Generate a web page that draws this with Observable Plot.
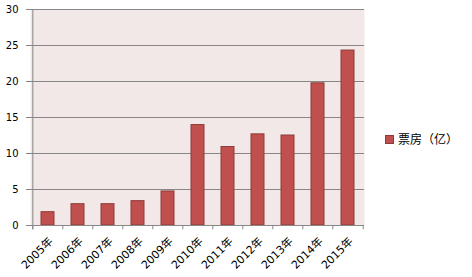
<!DOCTYPE html>
<html><head><meta charset="utf-8">
<script src="https://cdn.jsdelivr.net/npm/d3@7"></script>
<script src="https://cdn.jsdelivr.net/npm/@observablehq/plot@0.6"></script>
<style>
body{margin:0;background:#fff;}
#wrap{position:relative;width:472px;height:277px;}
#legend{position:absolute;left:385px;top:133px;height:12px;line-height:12px;font-size:12px;font-family:"Noto Sans CJK SC","DejaVu Sans",sans-serif;display:flex;align-items:center;color:#000;}
#legend .sw{width:7px;height:7px;background:#C0504D;border:1px solid #8E3A38;margin-right:4px;}
</style>
</head><body><div id="wrap"></div>
<script>
const years = ["2005年","2006年","2007年","2008年","2009年","2010年","2011年","2012年","2013年","2014年","2015年"];
const boxOffice = [1.85, 2.96, 2.96, 3.38, 4.73, 13.95, 10.9, 12.66, 12.5, 19.75, 24.3];
const yTicks = [0, 5, 10, 15, 20, 25, 30];
const seriesName = "票房（亿）";

const data = years.map((y, i) => ({year: y, value: boxOffice[i]}));
const W = 472, H = 277, mL = 30, mR = 108, mT = 9, mB = 52;
const step = (W - mL - mR) / years.length;
const gray = "#878787";

const chart = Plot.plot({
  width: W, height: H,
  marginLeft: mL, marginRight: mR, marginTop: mT, marginBottom: mB,
  style: {fontFamily: "'DejaVu Sans','Noto Sans CJK SC',sans-serif", fontSize: "10px", color: "#000", background: "transparent", overflow: "visible"},
  x: {domain: years, paddingInner: 0.58, paddingOuter: 0.29, label: null},
  y: {domain: [0, 30], ticks: yTicks, label: null},
  marks: [
    Plot.frame({fill: "#F3E8E8", stroke: null}),
    Plot.gridY(yTicks, {stroke: gray, strokeOpacity: 1}),
    Plot.barY(data, {x: "year", y: "value", fill: "#C0504D", stroke: "#8E3A38", strokeWidth: 1}),
    Plot.ruleX(years, {x: d => d, y1: -0.6, y2: 0, dx: -step / 2, stroke: gray}),
    Plot.ruleX([years[years.length - 1]], {x: d => d, y1: -0.6, y2: 0, dx: step / 2, stroke: gray}),
    Plot.ruleX([years[0]], {x: d => d, y1: -0.6, y2: 30, dx: -step / 2, stroke: gray}),
    Plot.ruleY([0], {stroke: gray}),
    Plot.axisY(yTicks, {tickSize: 4, tickPadding: 8, stroke: gray, fill: "#000"}),
    Plot.axisX({tickSize: 0, tickPadding: 14, dx: 3, tickRotate: -45, fill: "#000", fontSize: 11})
  ]
});
const wrap = document.getElementById("wrap");
wrap.appendChild(chart);
const lg = document.createElement("div");
lg.id = "legend";
lg.innerHTML = `<span class="sw"></span><span>${seriesName}</span>`;
wrap.appendChild(lg);
</script>
</body></html>
